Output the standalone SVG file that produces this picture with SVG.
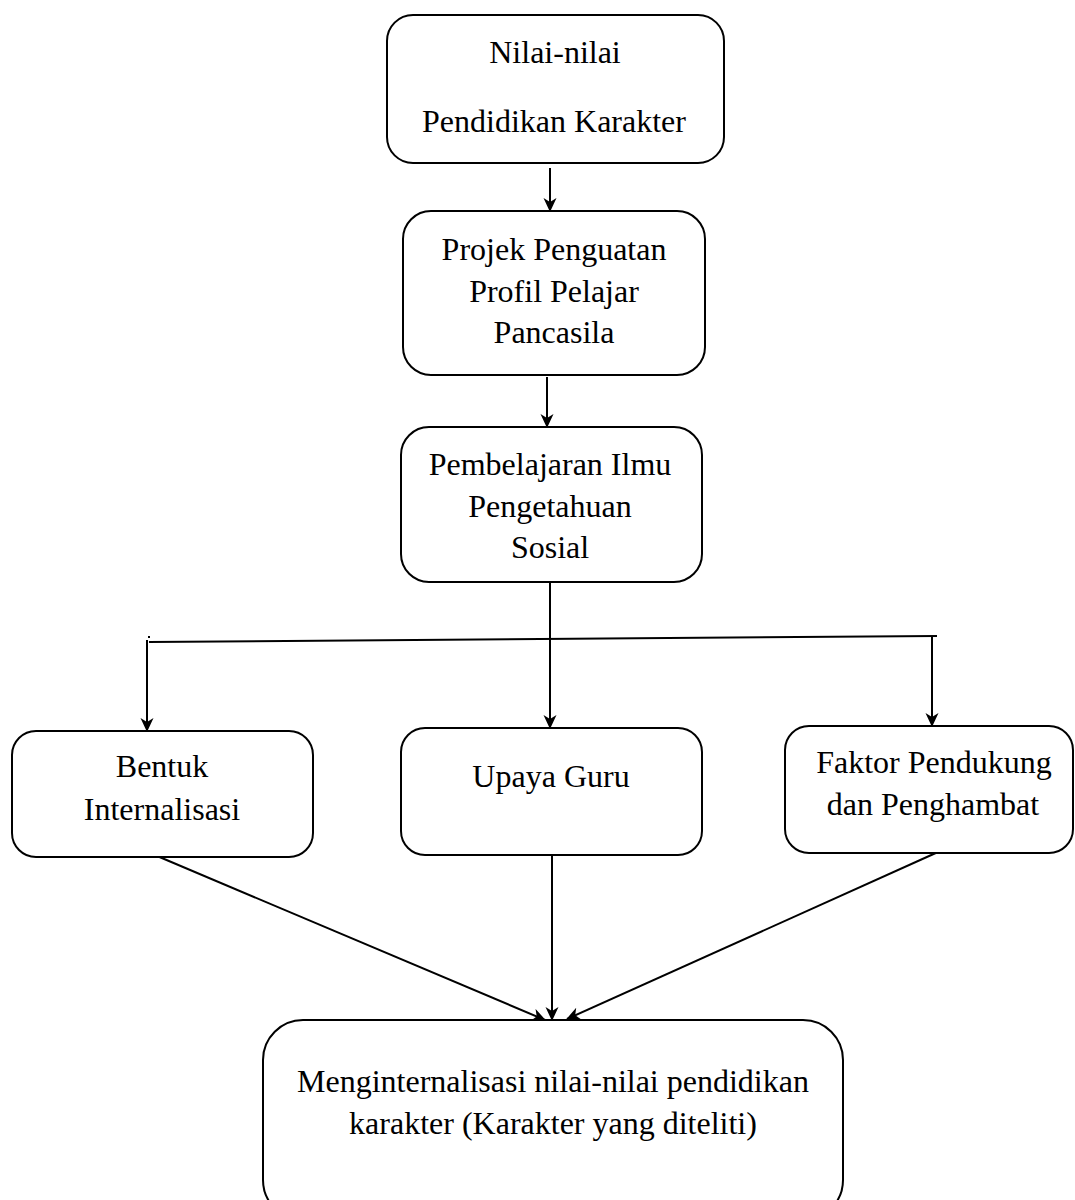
<svg xmlns="http://www.w3.org/2000/svg" width="1075" height="1200" viewBox="0 0 1075 1200">
<style>
.box{fill:#fff;stroke:#000;stroke-width:2}
.t{font-family:"Liberation Serif","Times New Roman",serif;font-size:32px;fill:#000;text-anchor:middle}
.c{fill:none;stroke:#000;stroke-width:2}
</style>
<defs>
<marker id="ah" viewBox="0 0 14 14" refX="13" refY="7" markerWidth="14" markerHeight="14" markerUnits="userSpaceOnUse" orient="auto">
<path d="M0,0.5 L14,7 L0,13.5 L4,7 z" fill="#000"/>
</marker>
</defs>
<rect width="1075" height="1200" fill="#fff"/>
<g id="connectors">
<line class="c" x1="550" y1="168" x2="550" y2="211" marker-end="url(#ah)"/>
<line class="c" x1="547" y1="377" x2="547" y2="427" marker-end="url(#ah)"/>
<line class="c" x1="550" y1="582" x2="550" y2="728" marker-end="url(#ah)"/>
<line class="c" x1="149" y1="642" x2="937" y2="636"/>
<line class="c" x1="148" y1="637" x2="150" y2="637"/>
<line class="c" x1="147" y1="640" x2="147" y2="731" marker-end="url(#ah)"/>
<line class="c" x1="932" y1="637" x2="932" y2="726" marker-end="url(#ah)"/>
<line class="c" x1="150" y1="853" x2="545" y2="1020" marker-end="url(#ah)"/>
<line class="c" x1="552" y1="855" x2="552" y2="1020" marker-end="url(#ah)"/>
<line class="c" x1="938" y1="852" x2="567" y2="1019" marker-end="url(#ah)"/>
</g>
<g id="n1">
<rect class="box" x="387" y="15" width="337" height="148" rx="26"/>
<text class="t" x="555" y="63">Nilai-nilai</text>
<text class="t" x="554" y="132">Pendidikan Karakter</text>
</g>
<g id="n2">
<rect class="box" x="403" y="211" width="302" height="164" rx="28"/>
<text class="t" x="554" y="260">Projek Penguatan</text>
<text class="t" x="554" y="302">Profil Pelajar</text>
<text class="t" x="554" y="343">Pancasila</text>
</g>
<g id="n3">
<rect class="box" x="401" y="427" width="301" height="155" rx="28"/>
<text class="t" x="550" y="475">Pembelajaran Ilmu</text>
<text class="t" x="550" y="517">Pengetahuan</text>
<text class="t" x="550" y="558">Sosial</text>
</g>
<g id="n4">
<rect class="box" x="12" y="731" width="301" height="126" rx="24"/>
<text class="t" x="162" y="777">Bentuk</text>
<text class="t" x="162" y="820">Internalisasi</text>
</g>
<g id="n5">
<rect class="box" x="401" y="728" width="301" height="127" rx="24"/>
<text class="t" x="551" y="787">Upaya Guru</text>
</g>
<g id="n6">
<rect class="box" x="785" y="726" width="288" height="127" rx="24"/>
<text class="t" x="934" y="773">Faktor Pendukung</text>
<text class="t" x="933" y="815">dan Penghambat</text>
</g>
<g id="n7">
<rect class="box" x="263" y="1020" width="580" height="200" rx="40"/>
<text class="t" x="553" y="1092">Menginternalisasi nilai-nilai pendidikan</text>
<text class="t" x="553" y="1134">karakter (Karakter yang diteliti)</text>
</g>
</svg>
